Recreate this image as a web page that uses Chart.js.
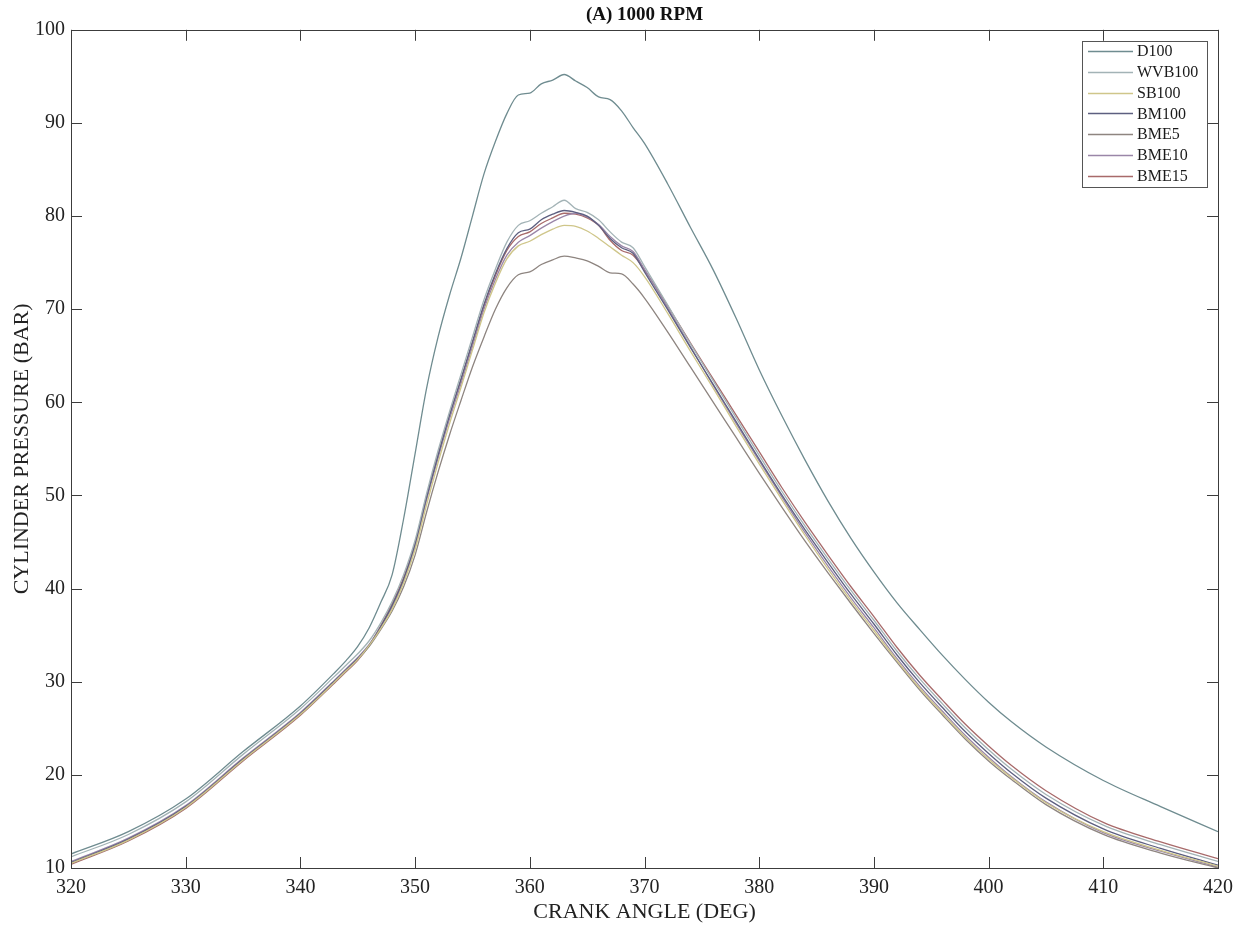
<!DOCTYPE html>
<html>
<head>
<meta charset="utf-8">
<script src="https://cdn.jsdelivr.net/npm/chart.js@4/dist/chart.umd.min.js"></script>
<style>
html,body{margin:0;padding:0;background:#fff;}
#wrap{width:1244px;height:927px;position:relative;}
</style>
</head>
<body>
<div id="wrap"><canvas id="c" width="1244" height="927"></canvas></div>
<script>
const chartTitle = '(A) 1000 RPM';
const xTitle = 'CRANK ANGLE (DEG)';
const yTitle = 'CYLINDER PRESSURE (BAR)';
const seriesNames = ['D100','WVB100','SB100','BM100','BME5','BME10','BME15'];
const seriesColors = ['#6f8c90','#a3b3b6','#cfc68a','#5d5f80','#8e8580','#9a86a8','#a86a6a'];

const angles = [320,325,330,335,340,343,344,345,346,347,348,349,350,351,352,353,354,355,356,357,358,359,360,361,362,363,364,365,366,367,368,369,370,372,374,376,378,380,382,384,386,388,390,392,394,396,398,400,402,405,410,415,420];

const d100   = [11.5,13.9,17.4,22.5,27.4,31.0,32.3,33.8,35.8,38.5,41.5,47.5,54.5,61.5,67.0,71.5,75.5,80.0,84.5,88.0,91.0,93.0,93.2,94.2,94.6,95.2,94.5,93.8,92.8,92.5,91.3,89.5,87.8,83.5,78.8,74.2,69.0,63.5,58.5,53.8,49.4,45.4,41.8,38.5,35.6,32.8,30.2,27.8,25.7,23.0,19.4,16.6,13.9];
const wvb100 = [11.2,13.6,17.1,22.2,27.1,30.6,31.8,33.0,34.4,36.3,38.6,41.5,45.2,50.2,54.8,59.0,63.0,67.0,71.0,74.3,77.2,79.0,79.5,80.3,81.0,81.7,80.8,80.4,79.6,78.3,77.2,76.6,74.6,70.5,66.3,62.3,58.3,54.3,50.4,46.7,43.2,39.8,36.6,33.3,30.3,27.6,25.0,22.7,20.6,17.9,14.6,12.5,10.7];
const sb100  = [10.5,13.0,16.5,21.6,26.5,30.0,31.2,32.4,33.9,35.7,37.8,40.6,44.2,49.0,53.5,57.7,61.6,65.6,69.6,72.8,75.4,76.8,77.3,78.0,78.6,79.0,78.9,78.4,77.6,76.7,75.8,75.0,73.5,69.6,65.5,61.5,57.4,53.4,49.5,45.7,42.1,38.7,35.5,32.3,29.3,26.6,24.0,21.7,19.7,17.0,13.9,11.9,10.2];
const bm100  = [10.6,13.1,16.6,21.7,26.6,30.1,31.3,32.5,33.9,35.9,38.2,41.0,44.8,49.8,54.3,58.6,62.5,66.5,70.5,73.8,76.5,78.2,78.6,79.6,80.2,80.6,80.4,80.0,79.0,77.6,76.6,76.0,74.0,70.0,65.9,61.9,57.9,53.9,50.0,46.3,42.8,39.4,36.2,32.9,29.9,27.2,24.6,22.3,20.2,17.5,14.2,12.1,10.3];
const bme5   = [10.5,13.0,16.5,21.6,26.5,30.0,31.2,32.4,33.8,35.6,37.6,40.2,43.6,48.2,52.5,56.5,60.2,63.8,67.0,70.0,72.3,73.7,74.0,74.8,75.3,75.7,75.5,75.2,74.6,73.9,73.8,72.7,71.2,67.6,63.8,60.0,56.2,52.4,48.7,45.1,41.7,38.4,35.2,32.1,29.1,26.4,23.8,21.5,19.5,16.8,13.6,11.6,10.0];
const bme10  = [10.7,13.2,16.7,21.8,26.7,30.2,31.4,32.6,34.0,35.9,38.0,40.8,44.5,49.5,54.0,58.2,62.0,66.0,70.0,73.2,75.8,77.2,77.9,78.7,79.4,80.0,80.3,79.9,79.1,77.8,76.8,76.2,74.3,70.2,66.0,61.8,57.7,53.7,49.8,46.0,42.4,39.0,35.8,32.5,29.5,26.8,24.2,21.9,19.8,17.1,13.8,11.8,10.1];
const bme15  = [10.4,12.9,16.4,21.5,26.4,29.9,31.1,32.3,33.9,36.0,38.4,41.2,44.9,49.9,54.4,58.6,62.4,66.4,70.3,73.6,76.3,77.8,78.3,79.2,79.8,80.3,80.2,79.8,79.0,77.4,76.3,75.8,74.2,70.4,66.4,62.5,58.6,54.7,50.8,47.1,43.6,40.2,37.0,33.7,30.7,28.0,25.4,23.1,21.0,18.3,14.9,12.8,11.0];

const seriesValues = [d100, wvb100, sb100, bm100, bme5, bme10, bme15];
const xTicks = [320,330,340,350,360,370,380,390,400,410,420];
const yTicks = [10,20,30,40,50,60,70,80,90,100];

const serif = "'Liberation Serif','Times New Roman',serif";

const datasets = seriesNames.map((name, i) => ({
  label: name,
  data: angles.map((a, j) => ({x: a, y: seriesValues[i][j]})),
  borderColor: seriesColors[i],
  backgroundColor: seriesColors[i],
  borderWidth: 1.3,
  pointRadius: 0,
  fill: false,
  cubicInterpolationMode: 'monotone'
}));

const frameAndTicks = {
  id: 'frameAndTicks',
  afterDatasetsDraw(chart) {
    const {ctx, chartArea: a, scales} = chart;
    ctx.save();
    ctx.strokeStyle = '#3c3c3c';
    ctx.lineWidth = 1;
    ctx.strokeRect(Math.round(a.left)+0.5, Math.round(a.top)+0.5, Math.round(a.right-a.left), Math.round(a.bottom-a.top));
    const L = 11;
    ctx.beginPath();
    scales.x.ticks.forEach(t => {
      const px = Math.round(scales.x.getPixelForValue(t.value)) + 0.5;
      ctx.moveTo(px, a.bottom); ctx.lineTo(px, a.bottom - L);
      ctx.moveTo(px, a.top); ctx.lineTo(px, a.top + L);
    });
    scales.y.ticks.forEach(t => {
      const py = Math.round(scales.y.getPixelForValue(t.value)) + 0.5;
      ctx.moveTo(a.left, py); ctx.lineTo(a.left + L, py);
      ctx.moveTo(a.right, py); ctx.lineTo(a.right - L, py);
    });
    ctx.stroke();

    // legend box
    const bx = 1082, by = 41, bw = 125, bh = 146;
    ctx.fillStyle = '#fff';
    ctx.fillRect(bx, by, bw, bh);
    ctx.strokeStyle = '#555';
    ctx.strokeRect(bx + 0.5, by + 0.5, bw, bh);
    ctx.font = '16px ' + serif;
    ctx.textBaseline = 'middle';
    ctx.textAlign = 'left';
    chart.data.datasets.forEach((ds, i) => {
      const y = by + 10 + i * 20.8;
      ctx.strokeStyle = ds.borderColor;
      ctx.lineWidth = 1.3;
      ctx.beginPath();
      ctx.moveTo(bx + 6, Math.round(y) + 0.5);
      ctx.lineTo(bx + 51, Math.round(y) + 0.5);
      ctx.stroke();
      ctx.fillStyle = '#1a1a1a';
      ctx.fillText(ds.label, bx + 55, y + 1);
    });
    ctx.restore();
  }
};

new Chart(document.getElementById('c'), {
  type: 'line',
  data: { datasets },
  options: {
    responsive: false,
    animation: false,
    layout: { padding: { left: 0, right: 26, top: 0, bottom: 0 } },
    plugins: {
      legend: { display: false },
      tooltip: { enabled: false },
      title: {
        display: true,
        text: chartTitle,
        fullSize: false,
        color: '#111',
        font: { family: serif, size: 19, weight: 'bold' },
        padding: { top: 4, bottom: 3 }
      }
    },
    scales: {
      x: {
        type: 'linear',
        min: 320, max: 420,
        afterBuildTicks(scale) { scale.ticks = xTicks.map(v => ({value: v})); },
        afterFit(scale) { scale.height = 59; },
        grid: { display: false, drawTicks: false },
        border: { display: false },
        ticks: { color: '#222', font: { family: serif, size: 20 }, padding: 8, maxRotation: 0 },
        title: { display: true, text: xTitle, color: '#222', font: { family: serif, size: 22 }, padding: { top: 0, bottom: 2 } }
      },
      y: {
        type: 'linear',
        min: 10, max: 100,
        afterBuildTicks(scale) { scale.ticks = yTicks.map(v => ({value: v})); },
        afterFit(scale) { scale.width = 71; },
        grid: { display: false, drawTicks: false },
        border: { display: false },
        ticks: { color: '#222', font: { family: serif, size: 20 }, padding: 6 },
        title: { display: true, text: yTitle, color: '#222', font: { family: serif, size: 22 }, padding: { top: 9, bottom: 0 } }
      }
    }
  },
  plugins: [frameAndTicks]
});
</script>
</body>
</html>
